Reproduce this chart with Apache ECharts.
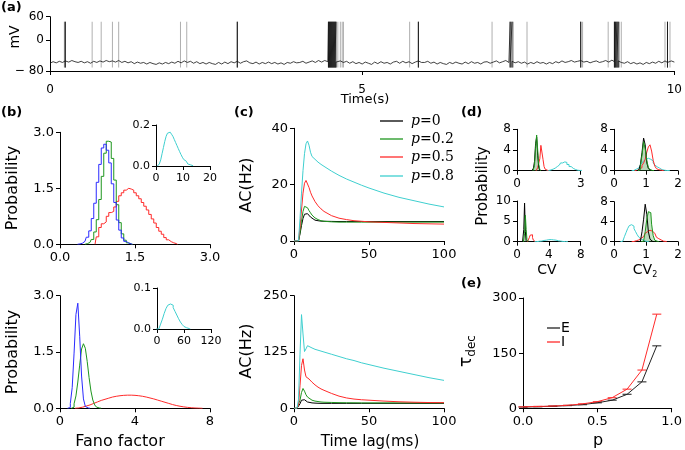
<!DOCTYPE html>
<html>
<head>
<meta charset="utf-8">
<script src="https://cdn.jsdelivr.net/npm/echarts@6/dist/echarts.min.js"></script>
<style>
html, body { margin: 0; padding: 0; background: #fff; }
#chart { width: 685px; height: 450px; }
</style>
</head>
<body>
<div id="chart"></div>
<script>
var FONT = 'DejaVu Sans';
var BLACK = '#000', GREEN = '#1e961e', RED = '#ff2a2a', CYAN = '#3fcfcf', BLUE = '#2a2aff', GRAY = '#9a9a9a';

// ---- (a) membrane potential, sampled every 0.05 s
var aStep = 0.05;
var aBase = [
  -60,-56,-59,-55,-58,-54,-57,-53,-56,-58,
  -55,-59,-56,-60,-55,-58,-54,-57,-53,-56,
  -54,-57,-53,-58,-55,-59,-56,-61,-57,-60,
  -58,-62,-58,-61,-63,-59,-62,-58,-61,-57,
  -60,-55,-59,-54,-58,-55,-60,-56,-61,-58,
  -62,-58,-61,-63,-58,-62,-57,-61,-56,-59,
  -55,-60,-56,-54,-59,-61,-57,-62,-58,-61,
  -57,-61,-58,-62,-59,-63,-58,-60,-56,-59,
  -58,-55,-60,-57,-54,-58,-53,-57,-53,-56,
  -54,-52,-57,-54,-58,-55,-60,-56,-61,-58,
  -62,-57,-60,-63,-57,-61,-56,-60,-58,-62,
  -57,-55,-60,-55,-59,-56,-61,-57,-54,-58,
  -58,-55,-60,-57,-62,-58,-61,-63,-58,-61,
  -57,-60,-62,-57,-61,-56,-60,-58,-62,-57,
  -56,-60,-57,-54,-59,-56,-53,-58,-55,-59,
  -56,-60,-57,-62,-58,-61,-56,-60,-58,-62,
  -58,-61,-56,-59,-54,-58,-56,-53,-57,-55,
  -53,-57,-55,-59,-56,-54,-58,-56,-53,-57,
  -52,-56,-54,-58,-60,-56,-61,-58,-62,-59,
  -63,-58,-61,-57,-60,-55,-59,-54,-58,-54,
  -57
];
var aSpikesBlack = [0.244, 3.0, 4.46, 4.475, 4.49, 4.505, 4.52, 4.535, 4.55, 4.565, 4.58,
  5.90, 7.37, 7.40, 8.50, 9.04, 9.06, 9.08, 9.10, 9.89];
var aSpikesGray = [0.23, 0.675, 0.82, 1.0, 1.1, 2.09, 2.19, 4.61, 4.65, 4.68, 4.70,
  5.76, 7.08, 7.42, 7.64, 8.53, 8.94, 9.12, 9.15, 9.85, 9.93];
var aPeak = 47, aTrough = -71;

// ---- (b) Fano factor histograms: [first bin centre, bin width], values
var bTopBlueBins = [0.40, 0.05];
var bTopBlue = [0.01,0.03,0.08,0.19,0.36,0.69,1.10,1.66,2.14,2.58,2.68,2.52,2.18,1.62,1.12,0.65,0.38,0.17,0.08,0.03,0.01];
var bTopGreenBins = [0.55, 0.05];
var bTopGreen = [0.02,0.05,0.13,0.33,0.66,1.2,1.82,2.44,2.76,2.74,2.3,1.72,1.06,0.58,0.28,0.11,0.04,0.01];
var bTopRedBins = [0.75, 0.05];
var bTopRed = [0.2,0.45,0.55,0.6,0.75,0.85,0.88,1.0,1.15,1.3,1.38,1.45,1.5,1.48,1.45,1.38,1.3,1.22,1.12,1.02,
  0.92,0.8,0.68,0.57,0.45,0.35,0.27,0.18,0.12,0.07,0.04,0.02];
var bTopCyanBins = [1.0, 0.5];
var bTopCyan = [0.0,0.01,0.03,0.06,0.09,0.12,0.145,0.16,0.165,0.162,0.155,0.145,0.13,0.115,0.1,0.085,0.07,
  0.056,0.043,0.032,0.023,0.016,0.01,0.006,0.003,0.001];

var bBotBlueBins = [0.5, 0.1];
var bBotBlue = [0.02,0.13,0.55,1.47,2.5,2.8,1.92,0.86,0.25,0.05,0.01];
var bBotGreenBins = [0.7, 0.1];
var bBotGreen = [0.03,0.12,0.33,0.7,1.15,1.58,1.72,1.6,1.25,0.82,0.46,0.22,0.09,0.03,0.01];
var bBotRedBins = [1.0, 0.2];
var bBotRed = [0.01,0.03,0.06,0.09,0.13,0.17,0.21,0.24,0.27,0.30,0.32,0.335,0.345,0.35,0.35,0.345,0.335,0.32,
  0.3,0.275,0.25,0.22,0.19,0.16,0.13,0.1,0.075,0.055,0.038,0.025,0.015,0.008,0.004];
var bBotCyanBins = [2, 4];
var bBotCyan = [0.0,0.004,0.012,0.024,0.038,0.05,0.058,0.061,0.058,0.052,0.043,0.034,0.025,0.017,0.011,0.006,0.003,0.001];

// ---- (c) autocorrelation
var pNames = ['p=0', 'p=0.2', 'p=0.5', 'p=0.8'];
var cTopLag = [0,3,4,5,6,7,8,9,10,11,12,14,16,18,20,25,30,35,40,45,50,60,70,80,90,100];
var cTop = [
  [0,0,2.5,5.5,8,9.5,10,9.7,9.0,8.5,8.0,7.4,7.2,7.05,7.0,6.95,6.9,6.9,6.9,6.9,6.9,6.9,6.9,6.9,6.9,6.9],
  [0,0,3,7,10.5,12.3,12.5,11.8,10.8,10,9.2,8.2,7.6,7.2,7.0,6.8,6.7,6.7,6.7,6.7,6.7,6.7,6.7,6.7,6.7,6.7],
  [0,0,5,11,17,20.5,21.5,21,19,17.3,16,14,12.5,11.4,10.5,9.0,8.1,7.6,7.2,7.0,6.8,6.6,6.4,6.2,6.1,6.0],
  [0,0,8,17,25,31,34.5,35.5,34,31.5,30,29,28,27.2,26.5,24.8,23.3,22,20.9,19.8,18.8,17,15.5,14.3,13.1,12.1]
];
var cBotLag = [0,2,3,4,5,6,7,8,9,10,12,14,16,18,20,25,30,35,40,45,50,60,70,80,90,100];
var cBot = [
  [0,0,2,10,18,22,19,16,14,13,12,11.5,11.2,11,11,11,11,11,11,11,11,11,11,11,11,11],
  [0,0,3,18,35,44,38,30,25,21,18,16,15,14,13.5,13,12.5,12.3,12.2,12,12,12,12,12,12,12],
  [0,0,8,50,95,110,85,70,68,65,58,52,47,43,40,33,27,23,20.5,19,18,16,14.5,13.5,12.8,12.5],
  [0,0,20,120,208,165,126,132,139,137,134,131,129,127,125,120,115,110,106,101,97,89,82,75,68,62]
];
var cColors = [BLACK, GREEN, RED, CYAN];

// ---- (d) CV and CV2 histograms (black, green, red, cyan)
var dTLBins = [[0.75,0.05],[0.8,0.05],[0.95,0.05],[1.5,0.1]];
var dTL = [
  [0.1,0.5,1.8,5.2,6.5,3.0,0.6,0.1],
  [0.2,1.0,4.5,6.9,4.0,1.2,0.2],
  [0.2,0.6,1.5,2.3,4.9,5.0,2.2,0.8,0.3,0.1,0.05],
  [0.05,0.15,0.3,0.5,0.8,1.1,1.5,1.7,1.6,1.2,0.8,0.45,0.25,0.1,0.05,0.05]
];
var dTRBins = [[0.75,0.05],[0.8,0.05],[0.7,0.05],[0.6,0.05]];
var dTR = [
  [0.1,0.4,1.2,3.5,6.3,5.0,1.5,0.4,0.1],
  [0.2,1.0,3.0,5.6,4.2,2.0,0.6,0.2,0.05],
  [0.05,0.1,0.3,0.6,1.0,1.5,2.2,3.6,4.6,5.0,3.8,2.0,0.9,0.4,0.2,0.1,0.05],
  [0.05,0.15,0.3,0.5,0.8,1.1,1.5,1.9,2.2,2.4,2.4,2.2,1.9,1.5,1.1,0.75,0.5,0.3,0.2,0.1,0.05,0.03,0.02]
];
var dBLBins = [[0.8,0.1],[0.9,0.1],[1.4,0.1],[2.4,0.2]];
var dBL = [
  [0.2,3,9.5,2.5,0.3],
  [0.2,2,6.5,3,0.5,0.1],
  [0.1,0.4,1.0,1.6,2.0,1.7,1.0,0.4,0.1],
  [0.02,0.05,0.1,0.15,0.22,0.3,0.38,0.45,0.5,0.52,0.5,0.45,0.38,0.3,0.22,0.15,0.1,0.05,0.02,0.01]
];
var dBRBins = [[0.8,0.05],[0.9,0.05],[0.6,0.05],[0.25,0.05]];
var dBR = [
  [0.1,0.5,2.0,4.5,7.5,5.5,2.0,0.5,0.1],
  [0.1,0.5,2.0,4.5,6.0,5.8,3.5,1.2,0.3,0.1],
  [0.05,0.1,0.2,0.35,0.5,0.7,1.0,1.3,1.7,2.0,2.3,2.3,2.1,1.7,1.3,0.9,0.6,0.35,0.2,0.1,0.05],
  [0.1,0.4,1.0,1.8,2.6,3.2,3.4,3.1,2.6,2.0,1.4,0.9,0.5,0.3,0.15,0.08,0.04]
];

// ---- (e) decay time constant
var eP = [0,0.1,0.2,0.3,0.4,0.5,0.6,0.7,0.8,0.9];
var eTauE = [3.5,4.5,5.5,7.5,10,15,22,38,72,170];
var eTauI = [4,5,6,8,12,18,29,52,104,256];
var eNames = ['E', 'I'];

// ---------------------------------------------------------------
function hist(bins, values) {
  var s = bins[0], w = bins[1];
  var d = [[s - w, 0]];
  values.forEach(function(v, i) { d.push([s + i * w, v]); });
  d.push([s + values.length * w, 0]);
  return d;
}

function traceData() {
  var pts = aBase.map(function(v, i) { return [i * aStep, v]; });
  aSpikesBlack.forEach(function(t) {
    var b = aBase[Math.round(t / aStep)];
    pts.push([t, b], [t, aPeak], [t, aTrough], [t, b]);
  });
  return pts.sort(function(p, q) { return p[0] - q[0]; });
}

function grayData() {
  var pts = [];
  aSpikesGray.forEach(function(t) {
    pts.push([t, aTrough], [t, aPeak], [t, '-']);
  });
  return pts;
}

var grids = [
  [50, 16.7, 627, 54.3],
  [60, 132.3, 150, 112],
  [156, 125, 54, 41],
  [60, 295.7, 150, 112.6],
  [157, 288, 54, 41],
  [294, 128.3, 150, 112.7],
  [294, 295.7, 150, 112.6],
  [517, 129.3, 63.7, 41.4],
  [614, 129.3, 64, 41.4],
  [517, 201, 63.7, 40.7],
  [614, 201.7, 64, 40],
  [523, 298, 150, 110.3]
];

function f1(v) { return v.toFixed(1); }
function f0(v) { return String(Math.round(v)); }

// [min, max, interval, formatter, fontSize]
var xSpec = [
  [0, 10, 5, f0, 12], [0, 3, 1.5, f1, 13], [0, 20, 10, f0, 11], [0, 8, 4, f0, 13], [0, 120, 60, f0, 11],
  [0, 100, 50, f0, 13], [0, 100, 50, f0, 13], [0, 3, 3, f0, 12], [0, 2, 1, f0, 12], [0, 8, 4, f0, 12],
  [0, 2, 1, f0, 12], [0, 1, 0.5, f1, 13]
];
var ySpec = [
  [-80, 60, 20, null, 12], [0, 3, 1.5, f1, 13], [0, 0.2, 0.2, f1, 11], [0, 3, 1.5, f1, 13], [0, 0.1, 0.1, f1, 11],
  [0, 40, 20, f0, 13], [0, 250, 125, f0, 13], [0, 8, 4, f0, 12], [0, 8, 4, f0, 12], [0, 10, 5, f0, 12],
  [0, 8, 4, f0, 12], [0, 300, 150, f0, 13]
];

function axis(spec, gi, isY) {
  return {
    type: 'value', gridIndex: gi, min: spec[0], max: spec[1], interval: spec[2],
    axisLine: { show: true, onZero: false, lineStyle: { color: '#000', width: 1 } },
    axisTick: { show: true, length: 4, lineStyle: { color: '#000' } },
    axisLabel: { color: '#000', fontFamily: FONT, fontSize: spec[4], margin: isY ? 6 : 7, formatter: spec[3] },
    splitLine: { show: false }
  };
}

var xAxes = xSpec.map(function(s, i) { return axis(s, i, false); });
var yAxes = ySpec.map(function(s, i) { return axis(s, i, true); });
yAxes[0].axisLabel.customValues = [-80, 0, 60];
yAxes[0].axisTick.customValues = [-80, 0, 60];
yAxes[0].axisLabel.formatter = function(v) { return v < 0 ? '\u2212 ' + Math.abs(v) : String(v); };
xAxes[0].axisLabel.margin = 13;

function line(gi, data, color, extra) {
  var s = {
    type: 'line', xAxisIndex: gi, yAxisIndex: gi, data: data, symbol: 'none',
    lineStyle: { color: color, width: 1 }, itemStyle: { color: color }, silent: true
  };
  for (var k in extra) s[k] = extra[k];
  return s;
}
function step(gi, bins, values, color, extra) {
  var e = { step: 'middle' };
  for (var k in extra) e[k] = extra[k];
  return line(gi, hist(bins, values), color, e);
}

var series = [];
// (a)
series.push(line(0, grayData(), GRAY, { lineStyle: { color: GRAY, width: 0.8 } }));
series.push(line(0, traceData(), BLACK, { lineStyle: { color: '#111', width: 0.8 } }));
// (b)
series.push(step(1, bTopRedBins, bTopRed, RED));
series.push(step(1, bTopGreenBins, bTopGreen, GREEN));
series.push(step(1, bTopBlueBins, bTopBlue, BLUE));
series.push(step(2, bTopCyanBins, bTopCyan, CYAN));
series.push(step(3, bBotRedBins, bBotRed, RED));
series.push(step(3, bBotGreenBins, bBotGreen, GREEN));
series.push(step(3, bBotBlueBins, bBotBlue, BLUE));
series.push(step(4, bBotCyanBins, bBotCyan, CYAN));
// (c)
cTop.forEach(function(vals, k) {
  series.push(line(5, cTopLag.map(function(t, i) { return [t, vals[i]]; }), cColors[k], { name: pNames[k] }));
});
cBot.forEach(function(vals, k) {
  series.push(line(6, cBotLag.map(function(t, i) { return [t, vals[i]]; }), cColors[k], { name: pNames[k] }));
});
// (d)
[[7, dTLBins, dTL], [8, dTRBins, dTR], [9, dBLBins, dBL], [10, dBRBins, dBR]].forEach(function(p) {
  [3, 2, 0, 1].forEach(function(k) {
    var extra = {};
    if (k === 1) extra.areaStyle = { color: GREEN, opacity: 0.25 };
    if (k === 0) extra.areaStyle = { color: '#888', opacity: 0.15 };
    series.push(step(p[0], p[1][k], p[2][k], cColors[k], extra));
  });
});
// (e)
series.push(line(11, eP.map(function(p, i) { return [p, eTauE[i]]; }), '#222', { name: 'E' }));
series.push(line(11, eP.map(function(p, i) { return [p, eTauI[i]]; }), RED, { name: 'I' }));
series.push({ type: 'scatter', xAxisIndex: 11, yAxisIndex: 11, symbol: 'rect', symbolSize: [9, 1.3],
  itemStyle: { color: '#222' }, silent: true, data: eP.map(function(p, i) { return [p, eTauE[i]]; }) });
series.push({ type: 'scatter', xAxisIndex: 11, yAxisIndex: 11, symbol: 'rect', symbolSize: [9, 1.3],
  itemStyle: { color: RED }, silent: true, data: eP.map(function(p, i) { return [p, eTauI[i]]; }) });

function txt(x, y, text, size, extra) {
  var g = {
    type: 'text', x: x, y: y, silent: true,
    style: { text: text, fontSize: size, fontFamily: FONT, fill: '#000', align: 'center', verticalAlign: 'middle' }
  };
  for (var k in extra) {
    if (k === 'style') { for (var j in extra.style) g.style[j] = extra.style[j]; }
    else g[k] = extra[k];
  }
  return g;
}
function key(x1, x2, y, color) {
  return { type: 'line', silent: true, shape: { x1: x1, y1: y, x2: x2, y2: y },
    style: { stroke: color, lineWidth: 1.3 } };
}
var ROT = Math.PI / 2;
var bold = { style: { fontWeight: 'bold', align: 'left', verticalAlign: 'top' } };

var graphics = [
  txt(1, 1, '(a)', 13, bold),
  txt(1, 106, '(b)', 13, bold),
  txt(234, 106, '(c)', 13, bold),
  txt(461, 106, '(d)', 13, bold),
  txt(461, 277, '(e)', 13, bold),
  txt(15, 37, 'mV', 14, { rotation: ROT }),
  txt(365, 100, 'Time(s)', 13),
  txt(13, 188, 'Probability', 16, { rotation: ROT }),
  txt(13, 352, 'Probability', 16, { rotation: ROT }),
  txt(120, 442, 'Fano factor', 16),
  txt(247, 185, 'AC(Hz)', 16, { rotation: ROT }),
  txt(247, 351, 'AC(Hz)', 16, { rotation: ROT }),
  txt(370, 442, 'Time lag(ms)', 15),
  txt(483, 186, 'Probability', 15, { rotation: ROT }),
  txt(547, 270, 'CV', 14),
  txt(645, 270, '{a|CV}{b|2}', 14, { style: { rich: {
    a: { fontSize: 14, fontFamily: FONT, lineHeight: 18 },
    b: { fontSize: 8, fontFamily: FONT, lineHeight: 18, verticalAlign: 'bottom', padding: [6, 0, 0, 0] } } } }),
  txt(598, 441, 'p', 16),
  txt(467, 351, '{a|\u03c4}{b|dec}', 17, { rotation: ROT, style: { rich: {
    a: { fontSize: 17, fontFamily: FONT, lineHeight: 22 },
    b: { fontSize: 12, fontFamily: FONT, lineHeight: 22, verticalAlign: 'bottom', padding: [8, 0, 0, 0] } } } })
];

// legend of (c)
var cKeyY = [121, 139, 157, 176];
pNames.forEach(function(name, k) {
  graphics.push(key(380, 403, cKeyY[k], cColors[k]));
  graphics.push(txt(411, cKeyY[k], '{i|p}{n|' + name.substring(1) + '}', 14, { style: { align: 'left', rich: {
    i: { fontFamily: 'DejaVu Serif', fontStyle: 'italic', fontSize: 14 },
    n: { fontFamily: 'DejaVu Serif', fontSize: 14 } } } }));
});
// legend of (e)
var eKeyY = [328, 342];
var eColors = ['#222', RED];
eNames.forEach(function(name, k) {
  graphics.push(key(547, 560, eKeyY[k], eColors[k]));
  graphics.push(txt(561, eKeyY[k], name, 14, { style: { align: 'left' } }));
});

var chart = echarts.init(document.getElementById('chart'), null, { renderer: 'canvas' });
chart.setOption({
  animation: false,
  backgroundColor: '#fff',
  grid: grids.map(function(g) { return { left: g[0], top: g[1], width: g[2], height: g[3] }; }),
  xAxis: xAxes,
  yAxis: yAxes,
  graphic: graphics,
  series: series
});
</script>
</body>
</html>
